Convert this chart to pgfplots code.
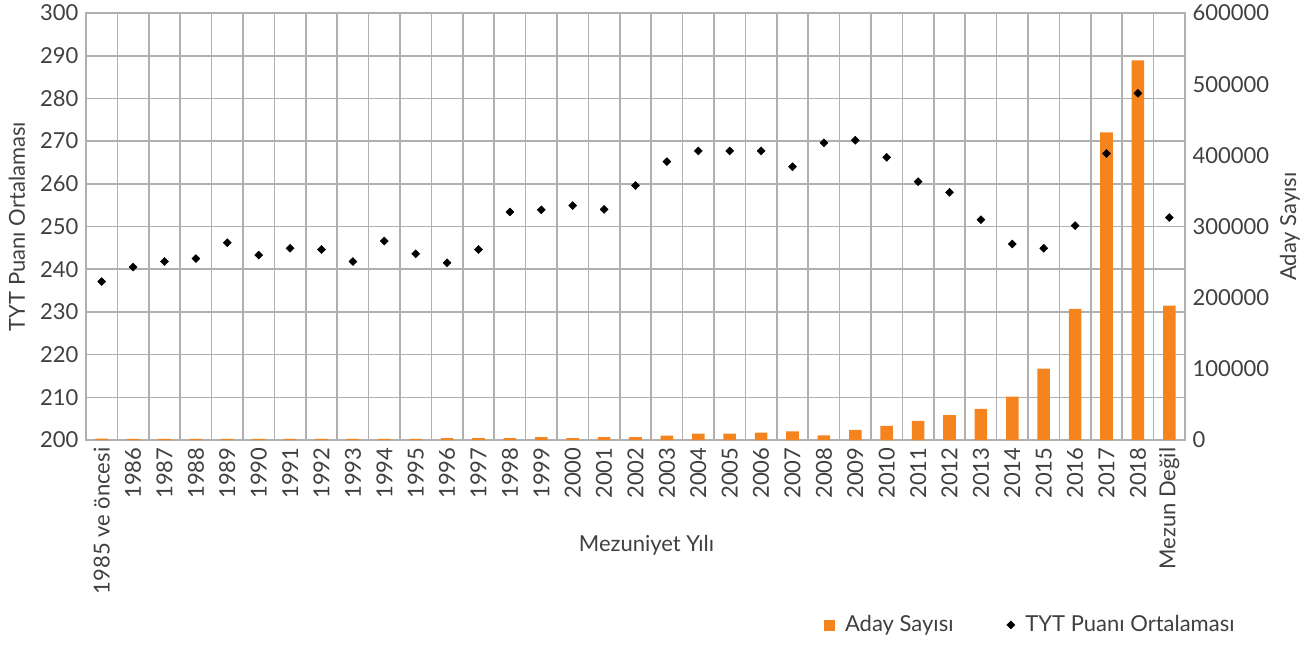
\documentclass[border=0pt]{standalone}
\usepackage{pgfplots}
\pgfplotsset{compat=1.18}
\usepackage{pgfplotstable}
\usepackage{fontspec}
\setmainfont{Lato}
\definecolor{barorange}{HTML}{F5841F}
\definecolor{txt}{HTML}{404040}
\definecolor{gridc}{HTML}{B0B0B0}

\pgfplotstableread{
x tyt aday
0 237.1 1800
1 240.5 1700
2 241.8 1700
3 242.5 1700
4 246.2 1700
5 243.3 1700
6 244.9 1700
7 244.6 1700
8 241.8 1700
9 246.6 1700
10 243.6 1700
11 241.5 2800
12 244.6 2800
13 253.4 2800
14 253.9 4200
15 254.9 2800
16 254.0 4200
17 259.6 4200
18 265.2 6100
19 267.7 8900
20 267.7 8900
21 267.7 10300
22 264.0 12200
23 269.6 6600
24 270.2 14100
25 266.2 19700
26 260.5 27000
27 258.0 35000
28 251.6 43800
29 245.9 60900
30 244.9 100300
31 250.2 184200
32 267.1 432200
33 281.2 533400
34 252.1 188900
}\data

\begin{document}
{\fontsize{16.5}{19}\selectfont\color{txt}%
\begin{tikzpicture}
\path[use as bounding box] (0,0) rectangle (981pt,483pt);
\pgfplotsset{
 common/.style={
  scale only axis, width=824.25pt, height=320.25pt,
  at={(64.5pt,153pt)}, anchor=south west,
  xmin=-0.5, xmax=34.5,
  tick style={draw=none},
  /pgf/number format/assume math mode=true,
 }
}
% axis 1: left axis with grid
\begin{axis}[common,
  ymin=200, ymax=300, ytick={200,210,...,300},
  ymajorgrids, major grid style={gridc, line width=1.2pt},
  xtick={0,...,34},
  xticklabels={1985 ve öncesi,1986,1987,1988,1989,1990,1991,1992,1993,1994,1995,1996,1997,1998,1999,2000,2001,2002,2003,2004,2005,2006,2007,2008,2009,2010,2011,2012,2013,2014,2015,2016,2017,2018,Mezun Değil},
  xticklabel style={rotate=90, anchor=east, xshift=0pt},
  minor xtick={-0.5,0.5,...,34.5},
  xminorgrids, minor grid style={gridc, line width=1.2pt},
  axis line style={gridc, line width=1.2pt},
  ylabel={TYT Puanı Ortalaması},
  ylabel style={at={(axis description cs:-0.063,0.5)}, anchor=center},
  xlabel={Mezuniyet Yılı},
  xlabel style={at={(axis description cs:0.51,-0.246)}, anchor=center},
]
\end{axis}
% axis 2: bars on right axis
\begin{axis}[common,
  ymin=0, ymax=600000, ytick={0,100000,...,600000},
  scaled y ticks=false,
  yticklabel style={/pgf/number format/fixed, /pgf/number format/1000 sep={}},
  axis y line*=right, axis x line=none,
  axis line style={gridc, line width=1.2pt},
  xtick=\empty,
  ylabel={Aday Sayısı},
  ylabel style={at={(axis description cs:1.0955,0.5)}, anchor=center},
]
\addplot[ybar, bar width=0.4, fill=barorange, draw=none] table[x=x,y=aday]{\data};
\end{axis}
% axis 3: scatter
\begin{axis}[common,
  ymin=200, ymax=300, axis lines=none, xtick=\empty, ytick=\empty,
  legend columns=2,
  legend style={draw=none, fill=none, at={(axis description cs:0.8594,-0.433)}, anchor=center,
    /tikz/every odd column/.append style={column sep=6pt},
    /tikz/every even column/.append style={column sep=38pt}},
]
\addlegendimage{legend image code/.code={\fill[barorange] (0pt,-3.75pt) rectangle (7.5pt,3.75pt);}}
\addlegendentry{Aday Sayısı}
\addplot[only marks, mark=square*, mark size=2.1pt, mark options={rotate=45, fill=black, draw=black}, black] table[x=x,y=tyt]{\data};
\addlegendentry{TYT Puanı Ortalaması}
\end{axis}
\end{tikzpicture}}
\end{document}
